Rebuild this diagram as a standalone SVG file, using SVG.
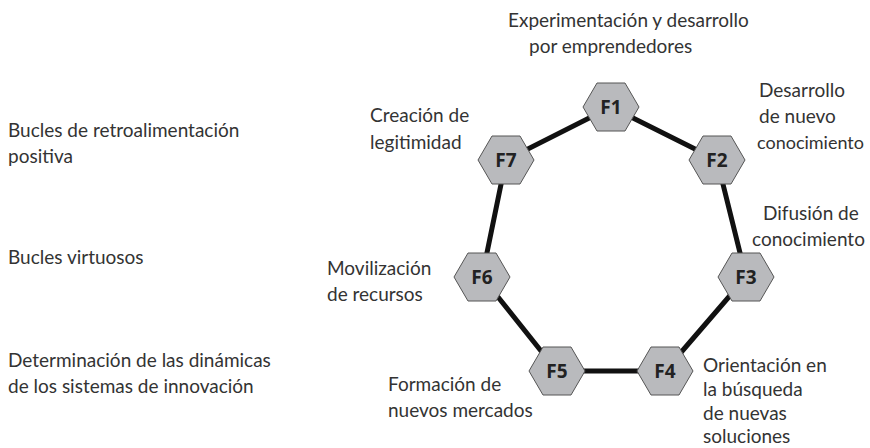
<svg xmlns="http://www.w3.org/2000/svg" width="870" height="448" viewBox="0 0 870 448">
<style>
.t{font-family:Lato,"Open Sans","Liberation Sans",sans-serif;font-size:19px;fill:#333}
.hx{fill:#b9babd;stroke:#555;stroke-width:1}
.lb{font-family:"Open Sans",Lato,"Liberation Sans",sans-serif;font-size:19px;font-weight:bold;fill:#222;text-anchor:middle}
.e{stroke:#111;stroke-width:5;fill:none}
</style>
<defs>
<polygon id="hex" points="-28,0 -14,-24 14,-24 28,0 14,24 -14,24"/>
</defs>
<rect width="870" height="448" fill="#fff"/>
<g id="left-labels">
<text class="t" x="8" y="137">Bucles de retroalimentación</text>
<text class="t" x="8" y="163">positiva</text>
<text class="t" x="8" y="264">Bucles virtuosos</text>
<text class="t" x="8" y="367">Determinación de las dinámicas</text>
<text class="t" x="8" y="393">de los sistemas de innovación</text>
</g>
<g id="connectors">
<polygon class="e" points="611,107 717,160 746,277 665,371 557,371 482,277 506,160" stroke-linejoin="round"/>
</g>
<g id="F1"><use href="#hex" class="hx" x="611" y="107"/><text class="lb" x="611" y="114">F1</text>
<text class="t" x="508" y="27">Experimentación y desarrollo</text><text class="t" x="529" y="53">por emprendedores</text></g>
<g id="F2"><use href="#hex" class="hx" x="717" y="160"/><text class="lb" x="717" y="167">F2</text>
<text class="t" x="759" y="97">Desarrollo</text><text class="t" x="759" y="123">de nuevo</text><text class="t" x="757" y="149" style="font-size:18px">conocimiento</text></g>
<g id="F3"><use href="#hex" class="hx" x="746" y="277"/><text class="lb" x="746" y="284">F3</text>
<text class="t" x="763" y="220">Difusión de</text><text class="t" x="752" y="246">conocimiento</text></g>
<g id="F4"><use href="#hex" class="hx" x="665" y="371"/><text class="lb" x="665" y="378">F4</text>
<text class="t" x="703" y="372">Orientación en</text><text class="t" x="703" y="396">la búsqueda</text><text class="t" x="703" y="420">de nuevas</text><text class="t" x="703" y="443">soluciones</text></g>
<g id="F5"><use href="#hex" class="hx" x="557" y="371"/><text class="lb" x="557" y="378">F5</text>
<text class="t" x="388" y="391">Formación de</text><text class="t" x="388" y="417">nuevos mercados</text></g>
<g id="F6"><use href="#hex" class="hx" x="482" y="277"/><text class="lb" x="482" y="284">F6</text>
<text class="t" x="327" y="275">Movilización</text><text class="t" x="327" y="301">de recursos</text></g>
<g id="F7"><use href="#hex" class="hx" x="506" y="160"/><text class="lb" x="506" y="167">F7</text>
<text class="t" x="370" y="122">Creación de</text><text class="t" x="370" y="149">legitimidad</text></g>
</svg>
